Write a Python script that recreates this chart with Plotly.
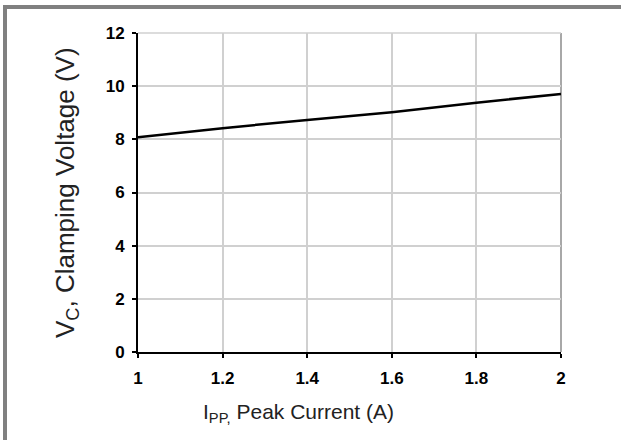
import plotly.graph_objects as go

current = [1.0, 1.2, 1.4, 1.6, 1.8, 2.0]
voltage = [8.08, 8.42, 8.73, 9.02, 9.38, 9.71]
x_ticks = [1, 1.2, 1.4, 1.6, 1.8, 2]
x_tick_labels = ["1", "1.2", "1.4", "1.6", "1.8", "2"]
y_ticks = [0, 2, 4, 6, 8, 10, 12]
x_title = "I<sub>PP,</sub> Peak Current (A)"
y_title = "V<sub>C</sub>, Clamping Voltage (V)"

L, R, T, B = 138, 60, 33, 88
W, H = 621, 440
pw, ph = W - L - R, H - T - B

def px(x):
    return (x - L) / pw

def py(y):
    return (H - B - y) / ph

tickfont = dict(size=17, family="Liberation Sans, Arial", weight="bold", color="black")

fig = go.Figure()
fig.add_trace(go.Scatter(x=current, y=voltage, mode="lines",
                         line=dict(color="black", width=2.5), showlegend=False))

fig.update_layout(
    width=W, height=H,
    margin=dict(l=L, r=R, t=T, b=B),
    paper_bgcolor="white", plot_bgcolor="white",
    font=dict(family="Liberation Sans, Arial", color="black"),
    xaxis=dict(range=[1, 2], tickvals=x_ticks, ticktext=x_tick_labels,
               showgrid=True, gridcolor="#d0d0d0", gridwidth=1.5,
               showline=True, linecolor="black", linewidth=2,
               ticks="outside", ticklen=4, tickwidth=1.5, tickcolor="black",
               tickfont=tickfont, ticklabelstandoff=6,
               zeroline=False),
    yaxis=dict(range=[0, 12], tickvals=y_ticks,
               showgrid=True, gridcolor="#d0d0d0", gridwidth=1.5,
               showline=True, linecolor="black", linewidth=2,
               ticks="outside", ticklen=4, tickwidth=1.5, tickcolor="black",
               tickfont=tickfont, ticklabelstandoff=4,
               zeroline=False),
    annotations=[
        dict(text=x_title, xref="paper", yref="paper", x=px(298), y=py(413),
             xanchor="center", yanchor="middle", showarrow=False,
             font=dict(size=21, color="#222222")),
        dict(text=y_title, xref="paper", yref="paper", x=px(67), y=py(193),
             xanchor="center", yanchor="middle", showarrow=False, textangle=-90,
             font=dict(size=26, color="#222222")),
    ],
    shapes=[
        dict(type="rect", xref="paper", yref="paper",
             x0=px(3), x1=px(621), y0=py(9), y1=py(5),
             fillcolor="#808080", line=dict(width=0), layer="above"),
        dict(type="rect", xref="paper", yref="paper",
             x0=px(3), x1=px(7), y0=py(440), y1=py(5),
             fillcolor="#808080", line=dict(width=0), layer="above"),
        dict(type="line", xref="paper", yref="paper",
             x0=1, x1=1, y0=0, y1=1,
             line=dict(color="#a8a8a8", width=2), layer="below"),
        dict(type="line", xref="paper", yref="paper",
             x0=0, x1=1, y0=1, y1=1,
             line=dict(color="#d0d0d0", width=1.5), layer="below"),
    ],
)

fig.write_html("out.html", config={"displayModeBar": False},
               post_script="document.body.style.margin='0';")
